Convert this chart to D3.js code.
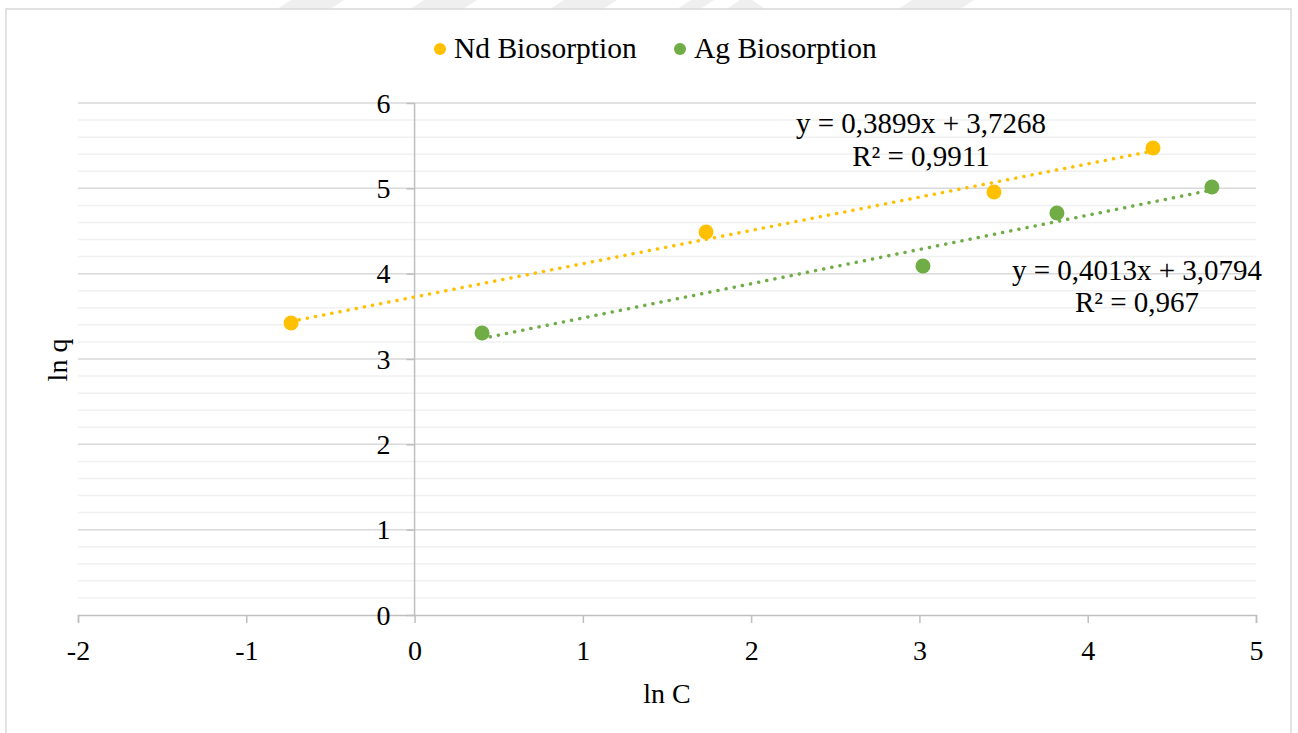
<!DOCTYPE html>
<html>
<head>
<meta charset="utf-8">
<script src="https://cdn.jsdelivr.net/npm/d3@7/dist/d3.min.js"></script>
<style>
  html, body { margin: 0; padding: 0; background: #ffffff; }
  svg { display: block; }
  text { font-family: "Liberation Serif", "Times New Roman", serif; fill: #000; }
</style>
</head>
<body>
<svg id="chart" width="1298" height="733"></svg>
<script>
// ln C (x) and ln q (y) for each biosorption series
const ndX = [-0.734, 1.732, 3.443, 4.388];
const ndY = [3.422, 4.488, 4.957, 5.473];
const agX = [0.401, 3.021, 3.817, 4.738];
const agY = [3.305, 4.090, 4.711, 5.016];

// linear trendline coefficients as printed on the chart
const ndFit = { slope: 0.3899, intercept: 3.7268, r2: "0,9911" };
const agFit = { slope: 0.4013, intercept: 3.0794, r2: "0,967" };

const seriesNames = ["Nd Biosorption", "Ag Biosorption"];
const seriesColors = ["#FFC000", "#70AD47"];

const xTicks = [-2, -1, 0, 1, 2, 3, 4, 5];
const yTicks = [0, 1, 2, 3, 4, 5, 6];
const xTitle = "ln C";
const yTitle = "ln q";

const svg = d3.select("#chart");
const W = 1298, H = 733;
const FONT = 28;

// faint watermark bands along the top edge
const wm = svg.append("g").attr("fill", "#efefef");
[[277, 330], [410, 463], [550, 603], [677, 700], [898, 960]].forEach(([a, b]) => {
  wm.append("polygon").attr("points", `${a},9 ${b},9 ${b + 14},0 ${a + 14},0`);
});
wm.append("polygon").attr("points", "727,9 765,9 752,0 740,0");

// chart frame
svg.append("rect")
  .attr("x", 6).attr("y", 9)
  .attr("width", 1285).attr("height", H)
  .attr("fill", "#fff")
  .attr("stroke", "#d9d9d9").attr("stroke-width", 1.5);

const x = d3.scaleLinear().domain([-2, 5]).range([78, 1256]);
const y = d3.scaleLinear().domain([0, 6]).range([615, 103]);

// minor horizontal gridlines (0.2 step)
const minor = d3.range(0, 6.0001, 0.2).filter(v => Math.abs(v - Math.round(v)) > 1e-6);
svg.append("g").selectAll("line").data(minor).join("line")
  .attr("x1", x(-2)).attr("x2", x(5))
  .attr("y1", d => y(d)).attr("y2", d => y(d))
  .attr("stroke", "#f0f0f0").attr("stroke-width", 1.5);

// major horizontal gridlines
svg.append("g").selectAll("line").data(yTicks.filter(v => v !== 0)).join("line")
  .attr("x1", x(-2)).attr("x2", x(5))
  .attr("y1", d => y(d)).attr("y2", d => y(d))
  .attr("stroke", "#d9d9d9").attr("stroke-width", 1.5);

// x axis along y = 0
const xAxis = d3.axisBottom(x).tickValues(xTicks).tickSize(8).tickPadding(10)
  .tickFormat(d => d < 0 ? "-" + Math.abs(d) : String(d));
const gx = svg.append("g").attr("transform", `translate(0,${y(0)})`).call(xAxis);
gx.attr("font-family", null);
gx.select(".domain").attr("stroke", "#bfbfbf").attr("stroke-width", 1.5);
gx.selectAll(".tick line").attr("stroke", "#bfbfbf").attr("stroke-width", 1.5);
gx.selectAll(".tick text")
  .attr("font-size", FONT).attr("fill", "#000")
  .attr("dy", null).attr("y", 45);

// y axis along x = 0
const yAxis = d3.axisLeft(y).tickValues(yTicks).tickSize(8).tickPadding(16)
  .tickFormat(d3.format("d"));
const gy = svg.append("g").attr("transform", `translate(${x(0)},0)`).call(yAxis);
gy.attr("font-family", null);
gy.select(".domain").attr("stroke", "#bfbfbf").attr("stroke-width", 1.5)
  .attr("d", `M0,${y(6)}V${y(0)}`);
gy.selectAll(".tick line").attr("stroke", "#bfbfbf").attr("stroke-width", 1.5);
gy.selectAll(".tick text")
  .attr("font-size", FONT).attr("fill", "#000")
  .attr("x", -24).attr("dy", "0.33em");

// axis titles
svg.append("text").attr("x", 667).attr("y", 703)
  .attr("text-anchor", "middle").attr("font-size", FONT).text(xTitle);
svg.append("text")
  .attr("transform", `translate(67,360) rotate(-90)`)
  .attr("text-anchor", "middle").attr("font-size", FONT).text(yTitle);

// series: dotted trendline then markers
const series = [
  { xs: ndX, ys: ndY, fit: ndFit, color: seriesColors[0] },
  { xs: agX, ys: agY, fit: agFit, color: seriesColors[1] }
];

series.forEach(s => {
  const x0 = d3.min(s.xs), x1 = d3.max(s.xs);
  const line = d3.line().x(d => x(d[0])).y(d => y(d[1]));
  svg.append("path")
    .attr("d", line([[x0, s.fit.intercept + s.fit.slope * x0], [x1, s.fit.intercept + s.fit.slope * x1]]))
    .attr("fill", "none")
    .attr("stroke", s.color).attr("stroke-width", 3.5)
    .attr("stroke-linecap", "round")
    .attr("stroke-dasharray", "0.1 8.2");
});

series.forEach(s => {
  svg.append("g").selectAll("circle").data(s.xs.map((v, i) => [v, s.ys[i]])).join("circle")
    .attr("cx", d => x(d[0])).attr("cy", d => y(d[1]))
    .attr("r", 7.5).attr("fill", s.color);
});

// trendline equations
const fmt = v => v.toFixed(4).replace(".", ",");
function equation(cx, y1, y2, fit) {
  svg.append("text").attr("x", cx).attr("y", y1).attr("text-anchor", "middle")
    .attr("font-size", 29).text(`y = ${fmt(fit.slope)}x + ${fmt(fit.intercept)}`);
  svg.append("text").attr("x", cx).attr("y", y2).attr("text-anchor", "middle")
    .attr("font-size", 29).text(`R² = ${fit.r2}`);
}
equation(921, 133, 166, ndFit);
equation(1137, 280, 312, agFit);

// legend
const legend = [
  { name: seriesNames[0], color: seriesColors[0], cx: 440, tx: 454 },
  { name: seriesNames[1], color: seriesColors[1], cx: 680, tx: 694 }
];
legend.forEach(l => {
  svg.append("circle").attr("cx", l.cx).attr("cy", 49).attr("r", 6).attr("fill", l.color);
  svg.append("text").attr("x", l.tx).attr("y", 58).attr("font-size", 29.5).text(l.name);
});
</script>
</body>
</html>
